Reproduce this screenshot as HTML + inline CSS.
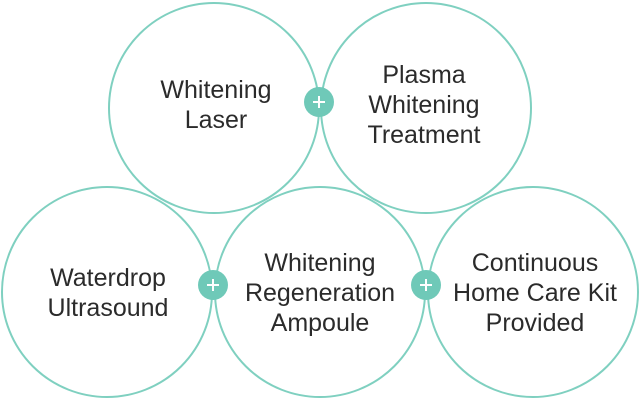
<!DOCTYPE html>
<html><head><style>
body{margin:0;background:#fff;}
svg text{font-family:"Liberation Sans",sans-serif;font-size:25px;fill:#2b2b2b;text-anchor:middle;}
</style></head><body>
<svg width="640" height="401" viewBox="0 0 640 401">
<g fill="none" stroke="#7fd0c0" stroke-width="2">
<circle cx="214" cy="108" r="105"/>
<circle cx="426" cy="108" r="105"/>
<circle cx="107" cy="292" r="105"/>
<circle cx="320" cy="292" r="105"/>
<circle cx="533" cy="292" r="105"/>
</g>
<g fill="#6fc9b8">
<circle cx="319" cy="102" r="15"/>
<circle cx="213" cy="285" r="15"/>
<circle cx="426" cy="285" r="15"/>
</g>
<g stroke="#fff" stroke-width="2">
<path d="M313 102h12M319 96v12"/>
<path d="M207 285h12M213 279v12"/>
<path d="M420 285h12M426 279v12"/>
</g>
<text x="216" y="98">Whitening</text>
<text x="216" y="128">Laser</text>
<text x="424" y="83">Plasma</text>
<text x="424" y="113">Whitening</text>
<text x="424" y="143">Treatment</text>
<text x="108" y="286">Waterdrop</text>
<text x="108" y="316">Ultrasound</text>
<text x="320" y="271">Whitening</text>
<text x="320" y="301">Regeneration</text>
<text x="320" y="331">Ampoule</text>
<text x="535" y="271">Continuous</text>
<text x="535" y="301">Home Care Kit</text>
<text x="535" y="331">Provided</text>
</svg>
</body></html>
